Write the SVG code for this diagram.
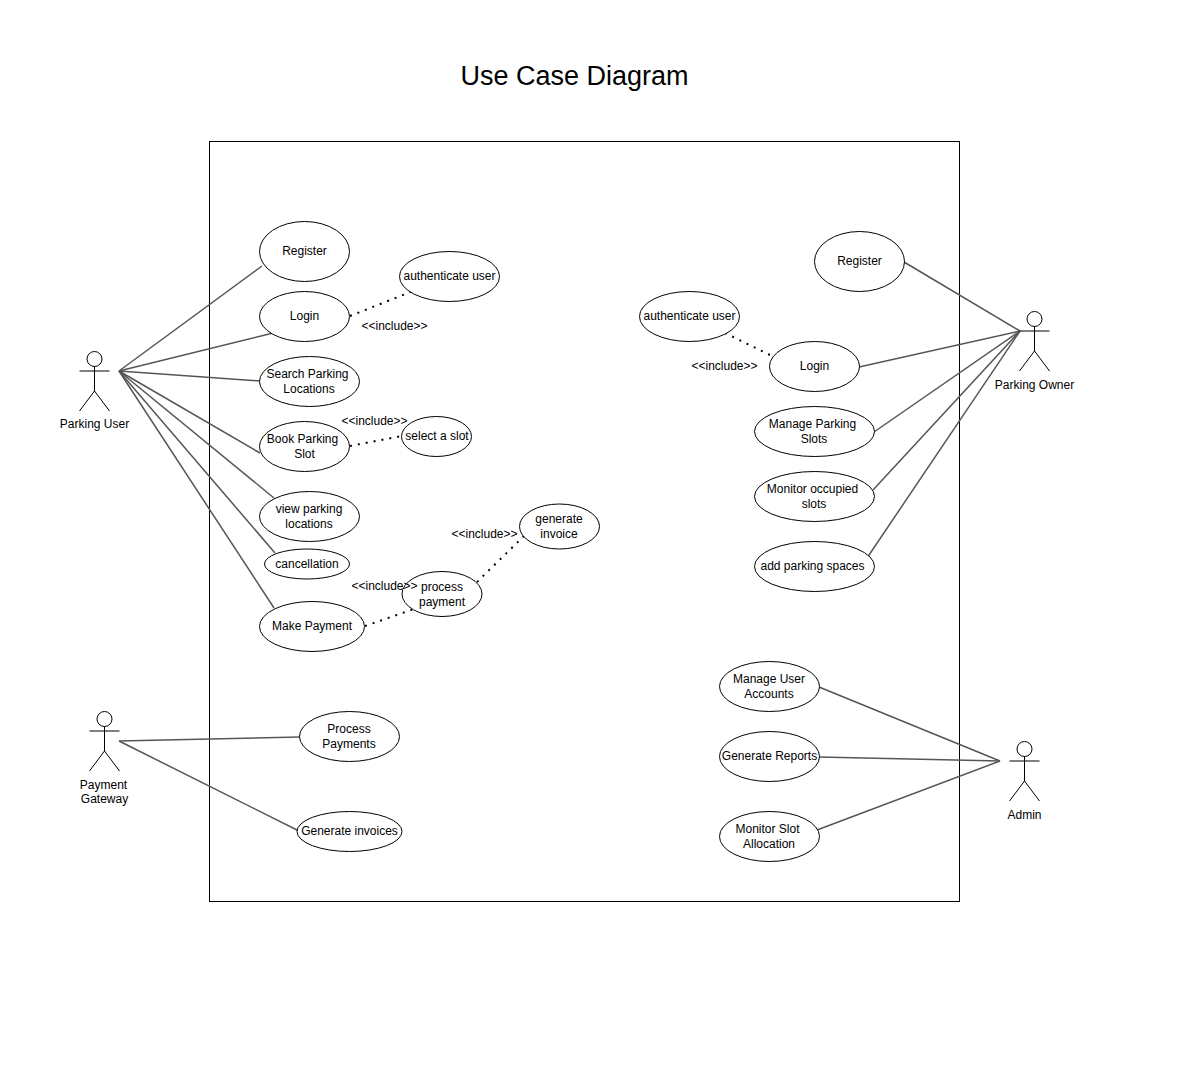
<svg xmlns="http://www.w3.org/2000/svg" width="1179" height="1088" viewBox="0 0 1179 1088">
<style>
text{font-family:"Liberation Sans",Arial,sans-serif;font-size:12px;fill:#000;text-anchor:middle}
.t{font-size:27px}
ellipse,.b{fill:#fff;stroke:#000;stroke-width:1}
.b{fill:none}
.a{fill:none;stroke:#000;stroke-width:1}
.c line{stroke:#555;stroke-width:1.5}
.d line{stroke:#000;stroke-width:2;stroke-dasharray:2 6}
</style>
<rect width="1179" height="1088" fill="#fff"/>
<text class="t" x="574.500" y="85">Use Case Diagram</text>
<rect class="b" x="209.500" y="141.500" width="750" height="760"/>
<g class="c" id="connectors">
<line x1="119" y1="371" x2="262" y2="266"/>
<line x1="119" y1="371" x2="273" y2="333"/>
<line x1="119" y1="371" x2="260" y2="381"/>
<line x1="119" y1="371" x2="260" y2="453"/>
<line x1="119" y1="371" x2="274" y2="498"/>
<line x1="119" y1="371" x2="275" y2="553"/>
<line x1="119" y1="371" x2="274" y2="608"/>
<line x1="119" y1="741" x2="300" y2="737"/>
<line x1="119" y1="741" x2="299" y2="831"/>
<line x1="1020" y1="331" x2="904" y2="262"/>
<line x1="1020" y1="331" x2="859" y2="367"/>
<line x1="1020" y1="331" x2="874" y2="432"/>
<line x1="1020" y1="331" x2="873" y2="490"/>
<line x1="1020" y1="331" x2="867" y2="558"/>
<line x1="1000" y1="761" x2="819" y2="687"/>
<line x1="1000" y1="761" x2="819" y2="757"/>
<line x1="1000" y1="761" x2="817" y2="830"/>
</g>
<g class="d" id="includes">
<line x1="350" y1="316" x2="413" y2="291"/>
<line x1="350" y1="446" x2="402" y2="436"/>
<line x1="365" y1="626" x2="414" y2="609"/>
<line x1="477" y1="582" x2="525" y2="535"/>
<line x1="725" y1="333" x2="772" y2="356"/>
</g>
<g id="include-labels">
<text x="394.500" y="330">&lt;&lt;include&gt;&gt;</text>
<text x="374.500" y="425">&lt;&lt;include&gt;&gt;</text>
<text x="484.500" y="538">&lt;&lt;include&gt;&gt;</text>
<text x="724.500" y="370">&lt;&lt;include&gt;&gt;</text>
</g>
<g id="uc-register"><ellipse cx="304.500" cy="251.500" rx="45" ry="30"/><text x="304.500" y="255">Register</text></g>
<g id="uc-login"><ellipse cx="304.500" cy="316.500" rx="45" ry="25"/><text x="304.500" y="320">Login</text></g>
<g id="uc-auth"><ellipse cx="449.500" cy="276.500" rx="50" ry="25"/><text x="449.500" y="280">authenticate user</text></g>
<g id="uc-search"><ellipse cx="309.500" cy="381.500" rx="50" ry="25"/><text x="307.500" y="378">Search Parking</text><text x="309" y="393">Locations</text></g>
<g id="uc-book"><ellipse cx="304.500" cy="446.500" rx="45" ry="25"/><text x="302.500" y="443">Book Parking</text><text x="304.500" y="458">Slot</text></g>
<g id="uc-slot"><ellipse cx="436.500" cy="436.500" rx="35" ry="20"/><text x="437" y="440">select a slot</text></g>
<g id="uc-view"><ellipse cx="309.500" cy="516.500" rx="50" ry="25"/><text x="309" y="513">view parking</text><text x="309" y="528">locations</text></g>
<g id="uc-cancel"><ellipse cx="307" cy="564" rx="42.500" ry="15"/><text x="307" y="568">cancellation</text></g>
<g id="uc-pay"><ellipse cx="312" cy="626.500" rx="52.500" ry="25"/><text x="312" y="630">Make Payment</text></g>
<g id="uc-process"><ellipse cx="442" cy="594" rx="40" ry="22.500"/><text x="442" y="591">process</text><text x="442" y="606">payment</text></g>
<g id="uc-invoice"><ellipse cx="559.500" cy="526.500" rx="40" ry="22.500"/><text x="559" y="523">generate</text><text x="559" y="538">invoice</text></g>
<text x="384.500" y="590">&lt;&lt;include&gt;&gt;</text>
<g id="uc-pp"><ellipse cx="349.500" cy="736.500" rx="50" ry="25"/><text x="349" y="733">Process</text><text x="349" y="748">Payments</text></g>
<g id="uc-gi"><ellipse cx="349.500" cy="831.500" rx="52.500" ry="20"/><text x="349.500" y="835">Generate invoices</text></g>
<g id="uc-oreg"><ellipse cx="859.500" cy="261.500" rx="45" ry="30"/><text x="859.500" y="265">Register</text></g>
<g id="uc-oauth"><ellipse cx="689.500" cy="316.500" rx="50" ry="25"/><text x="689.500" y="320">authenticate user</text></g>
<g id="uc-ologin"><ellipse cx="814.500" cy="366.500" rx="45" ry="25"/><text x="814.500" y="370">Login</text></g>
<g id="uc-manage"><ellipse cx="814.500" cy="431.500" rx="60" ry="25"/><text x="812.500" y="428">Manage Parking</text><text x="814" y="443">Slots</text></g>
<g id="uc-monitor"><ellipse cx="814.500" cy="496.500" rx="60" ry="25"/><text x="812.500" y="493">Monitor occupied</text><text x="814" y="508">slots</text></g>
<g id="uc-add"><ellipse cx="814.500" cy="566.500" rx="60" ry="25"/><text x="812.500" y="570">add parking spaces</text></g>
<g id="uc-users"><ellipse cx="769.500" cy="686.500" rx="50" ry="25"/><text x="769" y="683">Manage User</text><text x="769" y="698">Accounts</text></g>
<g id="uc-reports"><ellipse cx="769.500" cy="756.500" rx="50" ry="25"/><text x="769.500" y="760">Generate Reports</text></g>
<g id="uc-alloc"><ellipse cx="769.500" cy="836.500" rx="50" ry="25"/><text x="767.500" y="833">Monitor Slot</text><text x="769" y="848">Allocation</text></g>
<g id="actor-user"><circle class="a" cx="94.500" cy="359" r="7.500"/><path class="a" d="M94.500 366.500V391M79.500 371H109.500M79.500 411L94.500 391L109.500 411"/><text x="94.500" y="428">Parking User</text></g>
<g id="actor-gateway"><circle class="a" cx="104.500" cy="719" r="7.500"/><path class="a" d="M104.500 726.500V751M89.500 731H119.500M89.500 771L104.500 751L119.500 771"/><text x="103.500" y="789">Payment</text><text x="104.500" y="803">Gateway</text></g>
<g id="actor-owner"><circle class="a" cx="1034.500" cy="319" r="7.500"/><path class="a" d="M1034.500 326.500V351M1019.500 331H1049.500M1019.500 371L1034.500 351L1049.500 371"/><text x="1034.500" y="389">Parking Owner</text></g>
<g id="actor-admin"><circle class="a" cx="1024.500" cy="749" r="7.500"/><path class="a" d="M1024.500 756.500V781M1009.500 761H1039.500M1009.500 801L1024.500 781L1039.500 801"/><text x="1024.500" y="819">Admin</text></g>
</svg>
